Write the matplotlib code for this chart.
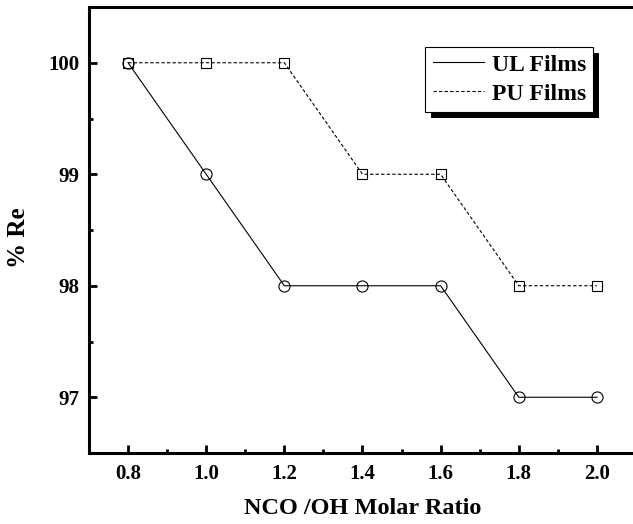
import matplotlib
matplotlib.use("Agg")
import matplotlib.pyplot as plt
from matplotlib.ticker import MultipleLocator
from matplotlib.patches import Rectangle
from matplotlib.transforms import IdentityTransform

ratio = [0.8, 1.0, 1.2, 1.4, 1.6, 1.8, 2.0]
ul_films = [100, 99, 98, 98, 98, 97, 97]
pu_films = [100, 100, 100, 99, 99, 98, 98]

plt.rcParams['font.family'] = ['Liberation Serif', 'DejaVu Serif']
plt.rcParams['font.weight'] = 'bold'

fig = plt.figure(figsize=(6.33, 5.24), dpi=100)
ax = fig.add_axes([89/633, 71/524, (636-89)/633, (453-7)/524])

ax.plot(ratio, ul_films, color='black', lw=0.8, marker='o', ms=8,
        mfc='none', mec='black', mew=0.8, label='UL Films')
ax.plot(ratio, pu_films, color='black', lw=0.8, ls=(0, (3, 2)), marker='s', ms=7,
        mfc='none', mec='black', mew=0.8, label='PU Films')

ax.set_xlim(0.7, 2.1)
ax.set_ylim(96.5, 100.5)
ax.set_xticks(ratio)
ax.set_xticklabels([f"{v:.1f}" for v in ratio])
ax.set_yticks([97, 98, 99, 100])
ax.xaxis.set_minor_locator(MultipleLocator(0.1))
ax.yaxis.set_minor_locator(MultipleLocator(0.5))

for s in ax.spines.values():
    s.set_linewidth(2.2)
ax.tick_params(which='major', direction='in', length=6, width=2, labelsize=15)
ax.tick_params(axis='x', which='major', pad=8)
ax.tick_params(axis='y', which='major', pad=7)
ax.tick_params(which='minor', direction='in', length=3, width=2)
ax.tick_params(top=False, right=False, which='both')
for lbl in ax.get_xticklabels() + ax.get_yticklabels():
    lbl.set_fontweight('bold')

ax.set_xlabel('NCO /OH Molar Ratio', fontsize=17.5, fontweight='bold')
ax.set_ylabel('% Re', fontsize=18, fontweight='bold')
ax.xaxis.set_label_coords(0.5, (453 - 498) / 446)
ax.yaxis.set_label_coords((30 - 89) / 547, (453 - 238) / 446)

leg = ax.legend(loc='upper right', bbox_to_anchor=(593/633, (524-47)/524),
                bbox_transform=fig.transFigure,
                frameon=True, fancybox=False, shadow=False, framealpha=1.0,
                prop={'family': 'Liberation Serif', 'weight': 'bold', 'size': 17},
                handlelength=2.2, handletextpad=0.3, borderpad=0.3, labelspacing=0.32,
                borderaxespad=0)
leg.set_zorder(10)
frame = leg.get_frame()
frame.set_facecolor('white')
frame.set_edgecolor('black')
frame.set_linewidth(0.8)
for h in leg.get_lines():
    h.set_marker('')

fig.canvas.draw()
bb = leg.get_window_extent()
off = 6
shadow = Rectangle((bb.x0 + off, bb.y0 - off), bb.width, bb.height,
                   transform=IdentityTransform(), facecolor='black', edgecolor='none',
                   zorder=9, clip_on=False)
ax.add_artist(shadow)

fig.savefig('out.png', dpi=100)
